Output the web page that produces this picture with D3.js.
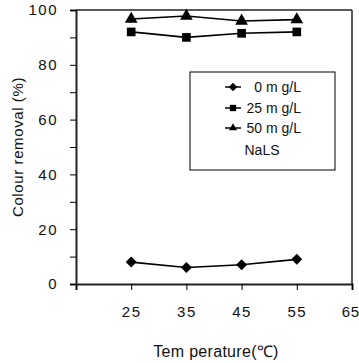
<!DOCTYPE html>
<html><head><meta charset="utf-8">
<script src="https://cdn.jsdelivr.net/npm/d3@7"></script>
<style>body{margin:0;background:#fff}svg{display:block}text{font-family:"Liberation Sans",Arial,sans-serif;fill:#111}</style>
</head><body><svg id="c" width="359" height="363"></svg>
<script>
const temps = [25, 35, 45, 55];
const s0 = [8, 6, 7, 9];
const s25 = [92, 90, 91.5, 92];
const s50 = [96.7, 97.8, 96, 96.5];
const seriesNames = ["0 m g/L", "25 m g/L", "50 m g/L"];
const xTicks = [15, 25, 35, 45, 55, 65];
const xTickLabels = ["", "25", "35", "45", "55", "65"];
const yTicks = [0,10,20,30,40,50,60,70,80,90,100];
const yTickLabels = ["0","","20","","40","","60","","80","","100"];

const svg = d3.select("#c");
const x = d3.scaleLinear().domain([15,65]).range([76,352]);
const y = d3.scaleLinear().domain([0,100]).range([284,10]);

// frame
svg.append("line").attr("x1",76).attr("x2",352).attr("y1",y(100)).attr("y2",y(100)).attr("stroke","#222").attr("stroke-width",1.5);
svg.append("line").attr("x1",352).attr("x2",352).attr("y1",y(100)).attr("y2",y(0)).attr("stroke","#222").attr("stroke-width",1.5);

const ya = svg.append("g").attr("transform","translate(76,0)")
  .call(d3.axisLeft(y).tickValues(yTicks).tickFormat((d,i)=>yTickLabels[i]).tickSize(6).tickPadding(12));
ya.select(".domain").attr("stroke-width",2).attr("stroke","#222");
ya.selectAll("text").style("font-size","15px").style("letter-spacing","1.5px");

const xa = svg.append("g").attr("transform","translate(0,284)")
  .call(d3.axisBottom(x).tickValues(xTicks).tickFormat((d,i)=>xTickLabels[i]).tickSize(6).tickPadding(16));
xa.select(".domain").attr("stroke-width",2).attr("stroke","#222");
xa.selectAll("text").style("font-size","15px").style("letter-spacing","1.5px");
xa.selectAll(".tick").filter(d=>d===65).select("text").attr("text-anchor","end").attr("x",7).style("letter-spacing","0.5px");

svg.append("text").attr("transform","translate(23,147) rotate(-90)").attr("text-anchor","middle")
  .style("font-size","15px").style("letter-spacing","0.6px").text("Colour removal (%)");
svg.append("text").attr("x",216).attr("y",357).attr("text-anchor","middle")
  .style("font-size","16px").style("letter-spacing","0.3px").text("Tem perature(℃)");

const diamond = {draw(ctx,size){const r=Math.sqrt(size/2);ctx.moveTo(0,-r);ctx.lineTo(r,0);ctx.lineTo(0,r);ctx.lineTo(-r,0);ctx.closePath();}};
const sym = [diamond, d3.symbolSquare, d3.symbolTriangle];
const symSize = [60, 75, 70];
const data = [s0, s25, s50];
const line = d3.line().x((d,i)=>x(temps[i])).y(d=>y(d));
data.forEach((s,k)=>{
  svg.append("path").attr("d",line(s)).attr("fill","none").attr("stroke","#000").attr("stroke-width",1.6);
  svg.selectAll(null).data(s).enter().append("path")
    .attr("d",d3.symbol().type(sym[k]).size(symSize[k]))
    .attr("transform",(d,i)=>`translate(${x(temps[i])},${y(d)})`).attr("fill","#000");
});

// legend
const lg = svg.append("g");
lg.append("rect").attr("x",190).attr("y",72).attr("width",145).attr("height",98).attr("fill","#fff").attr("stroke","#000").attr("stroke-width",1);
const rows = [87, 108, 128];
const legSize = [36, 40, 28];
seriesNames.forEach((n,k)=>{
  lg.append("line").attr("x1",225).attr("x2",241).attr("y1",rows[k]).attr("y2",rows[k]).attr("stroke","#000").attr("stroke-width",1.5);
  lg.append("path").attr("d",d3.symbol().type(sym[k]).size(legSize[k])).attr("transform",`translate(233,${rows[k]})`).attr("fill","#000");
  lg.append("text").attr("x",301).attr("y",rows[k]+5).attr("text-anchor","end").style("font-size","14px").text(n);
});
lg.append("text").attr("x",262).attr("y",155).attr("text-anchor","middle").style("font-size","14px").text("NaLS");
</script></body></html>
